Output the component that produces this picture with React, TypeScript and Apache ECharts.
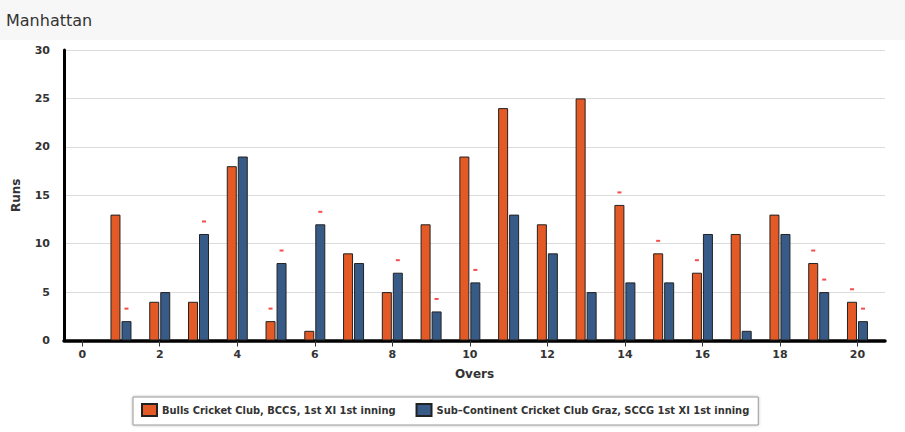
import React, { useEffect, useRef } from "react";
import * as echarts from "echarts";

const overs = [1, 2, 3, 4, 5, 6, 7, 8, 9, 10, 11, 12, 13, 14, 15, 16, 17, 18, 19, 20];
const bullsRuns = [13, 4, 4, 18, 2, 1, 9, 5, 12, 19, 24, 12, 25, 14, 9, 7, 11, 13, 8, 4];
const sccgRuns = [2, 5, 11, 19, 8, 12, 8, 7, 3, 6, 13, 9, 5, 6, 6, 11, 1, 11, 5, 2];
const bullsWicketOvers = [5, 14, 15, 16, 19, 20];
const sccgWicketOvers = [1, 3, 5, 6, 8, 9, 10, 19, 20];
const xTicks = [0, 2, 4, 6, 8, 10, 12, 14, 16, 18, 20];
const bullsName = "Bulls Cricket Club, BCCS, 1st XI 1st inning";
const sccgName = "Sub\u2013Continent Cricket Club Graz, SCCG 1st XI 1st inning";

const ORANGE = "#e35a26";
const BLUE = "#375a87";

export default function App() {
  const ref = useRef<HTMLDivElement>(null);
  useEffect(() => {
    document.body.style.margin = "0";
    const chart = echarts.init(ref.current!, null, { renderer: "svg" });
    const runsAt = (runs: number[], o: number) => runs[overs.indexOf(o)];
    const axisFont = { fontFamily: "DejaVu Sans", fontWeight: "bold" as const, fontSize: 11, color: "#333" };
    chart.setOption({
      animation: false,
      graphic: [
        { type: "rect", shape: { x: 0, y: 0, width: 905, height: 40 }, style: { fill: "#f7f7f7" }, z: -1 },
        {
          type: "text",
          x: 6,
          y: 20,
          style: { text: "Manhattan", fill: "#333", font: "16px 'DejaVu Sans'", verticalAlign: "middle" },
        },
      ],
      grid: { left: 64, right: 20, top: 50, bottom: 91.5 },
      legend: {
        data: [bullsName, sccgName],
        left: 133,
        top: 397,
        icon: "rect",
        itemWidth: 15,
        itemHeight: 12,
        itemGap: 20,
        padding: [6, 9, 8, 8],
        borderColor: "#999",
        borderWidth: 1,
        shadowColor: "rgba(0,0,0,0.25)",
        shadowBlur: 3,
        backgroundColor: "#fff",
        textStyle: { fontFamily: "DejaVu Sans Condensed", fontWeight: "bold", fontSize: 11, color: "#333" },
      },
      xAxis: {
        type: "value",
        min: -0.47,
        max: 20.71,
        name: "Overs",
        nameLocation: "middle",
        nameGap: 27,
        nameTextStyle: { fontFamily: "DejaVu Sans", fontWeight: "bold", fontSize: 12, color: "#333" },
        axisLine: { show: true, onZero: false, lineStyle: { color: "#000", width: 3.5 } },
        axisTick: { show: true, customValues: xTicks, length: 6, lineStyle: { color: "#333", width: 1 } },
        axisLabel: { customValues: xTicks, margin: 8, ...axisFont },
        splitLine: { show: false },
      },
      yAxis: {
        type: "value",
        min: 0,
        max: 30,
        interval: 5,
        name: "Runs",
        nameLocation: "middle",
        nameGap: 42,
        nameTextStyle: { fontFamily: "DejaVu Sans", fontWeight: "bold", fontSize: 12, color: "#333" },
        axisLine: { show: true, onZero: false, lineStyle: { color: "#000", width: 3 } },
        axisTick: { show: false },
        axisLabel: { margin: 14, ...axisFont },
        splitLine: { show: true, lineStyle: { color: "#dcdcdc", width: 1 } },
      },
      series: [
        {
          name: bullsName,
          type: "bar",
          barWidth: 10,
          barGap: "10%",
          data: overs.map((o, i) => [o, bullsRuns[i]]),
          itemStyle: { color: ORANGE, borderColor: "#222", borderWidth: 1 },
        },
        {
          name: sccgName,
          type: "bar",
          barWidth: 10,
          barGap: "10%",
          data: overs.map((o, i) => [o, sccgRuns[i]]),
          itemStyle: { color: BLUE, borderColor: "#222", borderWidth: 1 },
        },
        {
          name: "bullsWickets",
          type: "scatter",
          symbol: "rect",
          symbolSize: [4, 2],
          symbolOffset: [-5.5, -12.5],
          silent: true,
          z: 5,
          itemStyle: { color: "#f21f1f" },
          data: bullsWicketOvers.map((o) => [o, runsAt(bullsRuns, o)]),
        },
        {
          name: "sccgWickets",
          type: "scatter",
          symbol: "rect",
          symbolSize: [4, 2],
          symbolOffset: [5.5, -12.5],
          silent: true,
          z: 5,
          itemStyle: { color: "#f21f1f" },
          data: sccgWicketOvers.map((o) => [o, runsAt(sccgRuns, o)]),
        },
      ],
    });
    return () => chart.dispose();
  }, []);
  return <div ref={ref} style={{ width: 905, height: 432 }} />;
}
